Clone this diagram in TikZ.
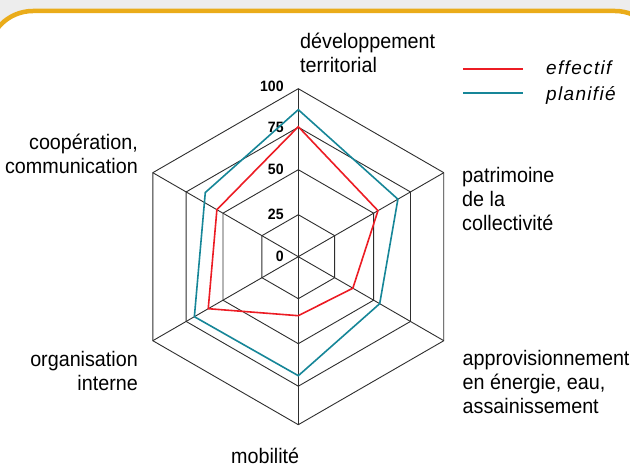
\documentclass[tikz,border=0pt]{standalone}
\usepackage{fontspec}
\setmainfont{Liberation Sans}[FakeStretch=0.94]
\newfontfamily\legendfont{Liberation Sans}[LetterSpace=7]
\definecolor{effred}{RGB}{236,28,36}
\definecolor{planblue}{RGB}{22,134,152}
\definecolor{framegold}{RGB}{234,172,26}

\begin{document}
\begin{tikzpicture}[x=1pt,y=1pt,
  grid/.style={draw=black!82, line width=0.9pt},
  effline/.style={draw=effred, line width=1.6pt, line join=miter},
  planline/.style={draw=planblue, line width=1.6pt, line join=miter},
  axislabel/.style={inner sep=0pt, font=\fontsize{21}{24}\selectfont},
  scalelabel/.style={inner sep=0pt, anchor=east, font=\fontsize{15}{16}\selectfont\bfseries},
  legendlabel/.style={inner sep=0pt, anchor=base west, font=\fontsize{19}{22}\selectfont\legendfont\itshape}]
\useasboundingbox (0,0) rectangle (630,468);
\fill[black!7] (0,0) rectangle (630,468);
\path[fill=white, draw=framegold, line width=4.5pt, rounded corners=45pt] (-12,-20) rectangle (660,457);

\begin{scope}[shift={(298.3,211.3)}]
\coordinate (c) at (0,0);
\foreach \a [count=\i] in {90,30,-30,-90,-150,150}
  \coordinate (ax\i) at (\a:168);
\foreach \r in {42,87,129.5,168}
  \draw[grid] (90:\r) -- (30:\r) -- (-30:\r) -- (-90:\r) -- (-150:\r) -- (150:\r) -- cycle;
\foreach \i in {1,...,6}
  \draw[grid] (c) -- (ax\i);
\foreach \v/\r in {0/0,25/42,50/87,75/129.5,100/170}
  \node[scalelabel] (s\v) at (-14.5,\r) {\v};
\draw[planline] (90:147) -- (30:115) -- (-30:94) -- (-90:119) -- (-150:120) -- (145.4:113) -- cycle;
\draw[effline] (90:130) -- (30:92) -- (-30:63) -- (-90:59) -- (-150:104) -- (150:94) -- cycle;
\end{scope}

% base anchor sits on the last line
\node[axislabel, anchor=base west, align=left] (dev) at (300,395) {développement\\territorial};
\node[axislabel, anchor=base west, align=left] (pat) at (462,237) {patrimoine\\de la\\collectivité};
\node[axislabel, anchor=base west, align=left] (appro) at (462.5,54) {approvisionnement\\en énergie, eau,\\assainissement};
\node[axislabel, anchor=base west] (mob) at (231,4) {mobilité};
\node[axislabel, anchor=base east, align=right] (org) at (138,77) {organisation\\interne};
\node[axislabel, anchor=base east, align=right] (coop) at (138,294.7) {coopération,\\communication};

\coordinate (er1) at (463,399);
\coordinate (er2) at (523,399);
\coordinate (pb1) at (463,375);
\coordinate (pb2) at (523,375);
\draw[effred, line width=2.6pt] (er1) -- (er2);
\draw[planblue, line width=2.6pt] (pb1) -- (pb2);
\node[legendlabel] (eff) at (546,393) {effectif};
\node[legendlabel] (plan) at (546,367.3) {planifié};
\end{tikzpicture}
\end{document}
